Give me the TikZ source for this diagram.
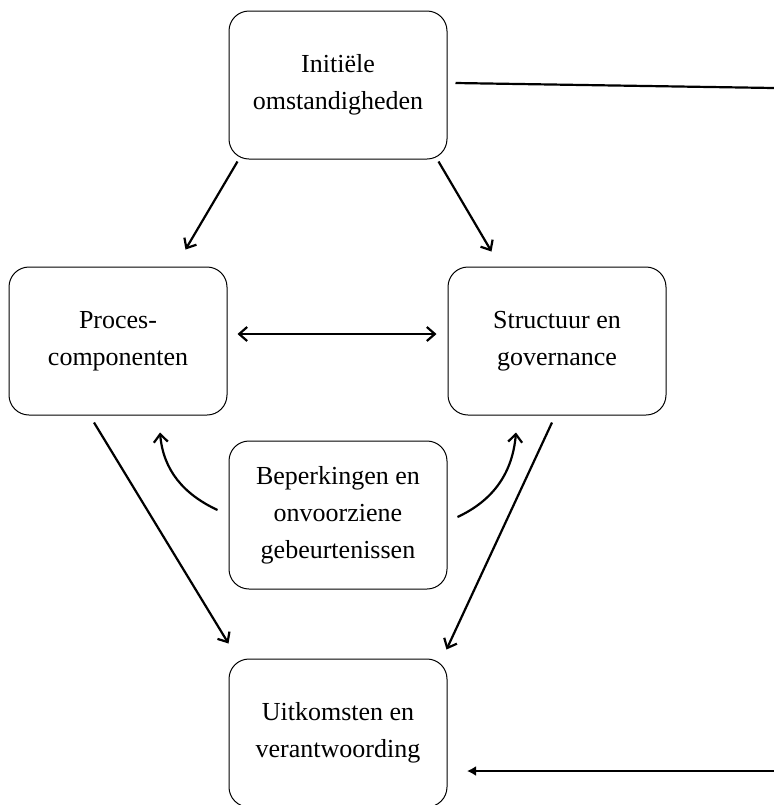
\documentclass[tikz,border=0pt]{standalone}
\usepackage{fontspec}
\setmainfont{Liberation Serif}
\usetikzlibrary{calc,arrows.meta}

\tikzset{
  barb/.tip={Straight Barb[length=4pt,width=7pt]},
  blok/.style={draw, line width=0.5pt, rounded corners=10pt, minimum width=109pt,
    minimum height=74pt, align=center, font=\fontsize{13}{18.5}\selectfont},
  pijl/.style={line width=1.1pt, -barb},
}

\begin{document}
\begin{tikzpicture}[x=0.5pt,y=-0.5pt]
        \useasboundingbox (0,0) rectangle (774,805);
        % the five blocks
        \node[blok] (init) at (338,85) {Initiële\\omstandigheden};
        \node[blok] (proc) at (118,341) {Proces-\\componenten};
        \node[blok] (struc) at (557,341) {Structuur en\\governance};
        \node[blok] (beperk) at (338,515) {Beperkingen en\\onvoorziene\\gebeurtenissen};
        \node[blok] (uitk) at (338,733) {Uitkomsten en\\verantwoording};
        % loose ends at the right border
        \coordinate (rboven) at (774,88);
        \coordinate (ronder) at (774,771);
        \coordinate (uitkin) at (467,771);
        % arrows
        \draw[pijl] ([xshift=4.5pt,yshift=-1pt]init.south west) -- ([xshift=-21pt,yshift=8.5pt]proc.north east);
        \draw[pijl] ([xshift=-4.5pt,yshift=-1pt]init.south east) -- ([xshift=22pt,yshift=7.5pt]struc.north west);
        \draw[pijl,barb-barb] ([xshift=5pt,yshift=3.5pt]proc.east) -- ([xshift=-5.5pt,yshift=3.5pt]struc.west);
        \draw[pijl] ([xshift=-12pt,yshift=-3.5pt]proc.south) -- ([yshift=7.5pt]uitk.north west);
        \draw[pijl] ([xshift=-2.5pt,yshift=-3.5pt]struc.south) -- ([xshift=-0.5pt,yshift=4.5pt]uitk.north east);
        %\draw[pijl] (beperk) -- (proc);
        \draw[pijl] ([xshift=-5.5pt,yshift=2.5pt]beperk.west) to[out=155,in=-85] ([xshift=21pt,yshift=-8.5pt]proc.south);
        \draw[pijl] ([xshift=5pt,yshift=-1pt]beperk.east) to[out=25,in=-95] ([xshift=-20.5pt,yshift=-8.5pt]struc.south);
        % lines to the right border
        \draw[line width=1.1pt] ([xshift=4pt,yshift=1pt]init.east) -- (rboven);
        \draw[line width=1.1pt,-{Latex[length=4.5pt,width=5pt]}] (ronder) -- (uitkin);
      \end{tikzpicture}
\end{document}
